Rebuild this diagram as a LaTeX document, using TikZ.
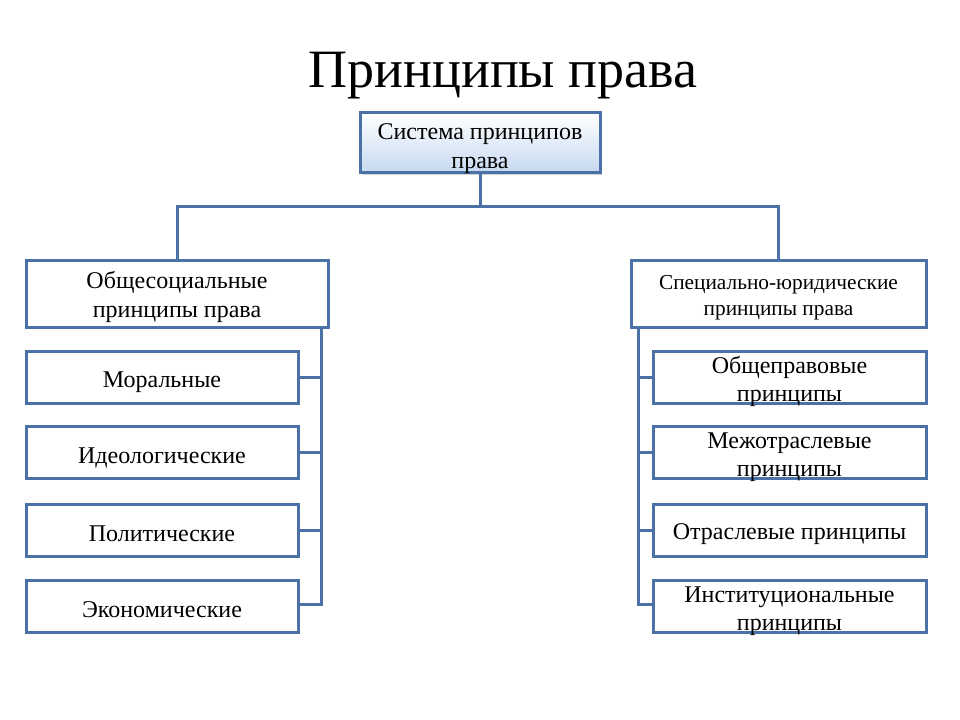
\documentclass[tikz,border=0pt]{standalone}
\usepackage{fontspec}
\setmainfont{Liberation Serif}
\usetikzlibrary{shadows}
\definecolor{lineblue}{HTML}{4A72A6}
\definecolor{topfill}{HTML}{C6D9F1}
\begin{document}
\begin{tikzpicture}[x=0.75pt,y=-0.75pt,
  box/.style={draw=lineblue,line width=2.25pt,fill=white,inner sep=0pt},
  txt/.style={inner sep=0pt,align=center,font=\fontsize{18}{21.75}\selectfont},
  conn/.style={draw=lineblue,line width=2.25pt},
]
\useasboundingbox (0,0) rectangle (960,720);
\node (title) at (503,76) {\fontsize{40.5}{44}\selectfont Принципы права};

\node[box,minimum width=240*0.75pt,minimum height=60*0.75pt,top color=white,bottom color=topfill,
  drop shadow={shadow xshift=1.5pt,shadow yshift=-1.5pt,opacity=0.35}] (top) at (480,143) {};
\node[txt] (topt) at ([yshift=-6*0.75pt]top.center) {Система принципов\\права};

\node[box,minimum width=302*0.75pt,minimum height=67*0.75pt] (L) at (177,294) {};
\node[txt] (Lt) at ([yshift=-3*0.75pt]L.center) {Общесоциальные\\принципы права};
\node[box,minimum width=295*0.75pt,minimum height=67*0.75pt] (R) at (778.5,294) {};
\node[txt,font=\fontsize{16}{19.5}\selectfont] (Rt) at ([yshift=-3.5*0.75pt]R.center)
  {Специально-юридические\\принципы права};

\tikzset{lc/.style={box,minimum width=272*0.75pt,minimum height=52*0.75pt},
         rc/.style={box,minimum width=273*0.75pt,minimum height=52*0.75pt},
         rt/.style={txt,font=\fontsize{18}{21}\selectfont}}
\node[lc] (l1) at (162,377) {};
\node[txt] (l1t) at ([yshift=-5*0.75pt]l1.center) {Моральные};
\node[lc] (l2) at (162,452.5) {};
\node[txt] (l2t) at ([yshift=-5*0.75pt]l2.center) {Идеологические};
\node[lc] (l3) at (162,530) {};
\node[txt] (l3t) at ([yshift=-3.5*0.75pt]l3.center) {Политические};
\node[lc] (l4) at (162,606) {};
\node[txt] (l4t) at ([yshift=-3.5*0.75pt]l4.center) {Экономические};

\node[rc] (r1) at (789.5,377) {};
\node[rt] (r1t) at ([yshift=-4*0.75pt]r1.center) {Общеправовые\\принципы};
\node[rc] (r2) at (789.5,452.5) {};
\node[rt] (r2t) at ([yshift=-4.5*0.75pt]r2.center) {Межотраслевые\\принципы};
\node[rc] (r3) at (789.5,530) {};
\node[rt] (r3t) at ([yshift=-4.5*0.75pt]r3.center) {Отраслевые принципы};
\node[rc] (r4) at (789.5,606.5) {};
\node[rt] (r4t) at ([yshift=-5*0.75pt]r4.center) {Институциональные\\принципы};

\coordinate (hb) at (480,207);
\draw[conn] (top.south) -- (hb);
\draw[conn] (L.north) |- (hb) -| (R.north);

\coordinate (lb) at (321,604);
\coordinate (rb) at (638,604);
\draw[conn] (L.south -| lb) -- (lb) -- (lb -| l4.east);
\foreach \n in {l1,l2,l3} \draw[conn] (\n.east) -- (\n.east -| lb);
\draw[conn] (R.south -| rb) -- (rb) -- (rb -| r4.west);
\foreach \n in {r1,r2,r3} \draw[conn] (\n.west) -- (\n.west -| rb);
\end{tikzpicture}
\end{document}
